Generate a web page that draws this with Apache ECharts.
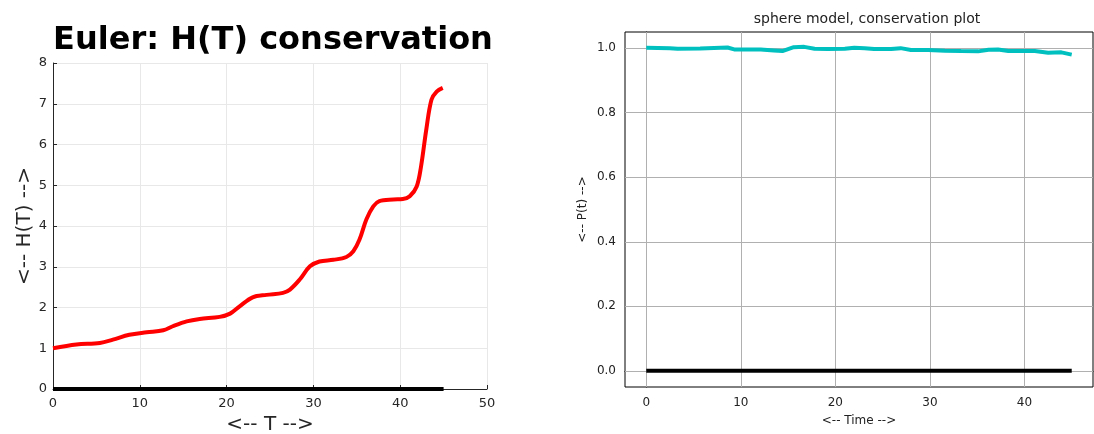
<!DOCTYPE html>
<html><head><meta charset="utf-8">
<script src="https://cdn.jsdelivr.net/npm/echarts@6/dist/echarts.min.js"></script>
<style>html,body{margin:0;padding:0;background:#fff}#c{width:1094px;height:434px}</style>
</head><body><div id="c"></div>
<script>
// Left chart: Euler H(T)
const eulerT = [0,2.7,5.4,6.9,8.8,10.8,12.7,13.8,15.4,16.9,19.2,20.4,21.5,23.0,24.6,26.5,27.3,28.4,29.6,30.7,32.3,33.8,34.6,35.3,36.1,36.9,37.6,39.2,40.3,41.1,41.9,42.4,43.0,43.6,44.2,44.9];
const eulerH = [1.0,1.09,1.13,1.21,1.33,1.39,1.44,1.54,1.66,1.72,1.77,1.85,2.03,2.25,2.31,2.36,2.44,2.68,3.01,3.13,3.17,3.24,3.38,3.66,4.16,4.48,4.61,4.65,4.66,4.73,4.97,5.46,6.36,7.10,7.30,7.39];
const zeroT = [0,45];
const zeroV = [0,0];
// Right chart: sphere model P(t)
const sphereT = [0,2.5,3.3,5.7,8.6,9.3,12.1,13.5,14.4,15.6,16.7,17.8,19.2,21,22,23.1,24.1,25.9,26.9,28,29.8,31.6,33.3,35.1,36.2,37.2,38.3,41.1,42.5,43.9,45];
const sphereP = [1.001,1.0,0.998,0.999,1.002,0.996,0.996,0.993,0.991,1.003,1.004,0.998,0.997,0.998,1.001,1.0,0.997,0.997,1.0,0.994,0.994,0.992,0.991,0.99,0.995,0.996,0.991,0.991,0.986,0.987,0.98];
const rightXTicks = [0,10,20,30,40];
const rightYTicks = [0,0.2,0.4,0.6,0.8,1.0];

const pairs = (a,b) => a.map((v,i)=>[v,b[i]]);
const F = 'DejaVu Sans';
const chart = echarts.init(document.getElementById('c'));
chart.setOption({
  animation:false,
  title:[
    {text:'Euler: H(T) conservation', left:268, top:20, textAlign:'center',
     textStyle:{fontFamily:F, fontWeight:'bold', fontSize:32, color:'#000'}},
    {text:'sphere model, conservation plot', left:862, top:7, textAlign:'center',
     textStyle:{fontFamily:F, fontWeight:'normal', fontSize:14, color:'#222'}}
  ],
  grid:[
    {left:53, top:63, width:434, height:326, containLabel:false, outerBoundsMode:'none'},
    {left:625, top:32, width:468, height:355, show:true, borderColor:'#000', borderWidth:1, containLabel:false, outerBoundsMode:'none'}
  ],
  xAxis:[
    {gridIndex:0, type:'value', min:0, max:50, interval:10,
     name:'<-- T -->', nameLocation:'middle', nameGap:26,
     nameTextStyle:{fontFamily:F, fontSize:20, color:'#262626'},
     axisLine:{lineStyle:{color:'#262626', width:1}},
     axisTick:{inside:true, length:4, lineStyle:{color:'#262626'}},
     axisLabel:{fontFamily:F, fontSize:13, color:'#262626', margin:8},
     splitLine:{show:true, lineStyle:{color:'#e8e8e8', width:1}}},
    {gridIndex:1, type:'value', min:-2.25, max:47.25,
     name:'<-- Time -->', nameLocation:'middle', nameGap:28,
     nameTextStyle:{fontFamily:F, fontSize:12, color:'#222'},
     axisLine:{lineStyle:{color:'#000', width:1}},
     axisTick:{show:true, length:4, lineStyle:{color:'#000'}, customValues:rightXTicks},
     axisLabel:{fontFamily:F, fontSize:12, color:'#222', margin:10, customValues:rightXTicks},
     splitLine:{show:false}}
  ],
  yAxis:[
    {gridIndex:0, type:'value', min:0, max:8, interval:1,
     name:'<-- H(T) -->', nameLocation:'middle', nameGap:15,
     nameTextStyle:{fontFamily:F, fontSize:20, color:'#262626'},
     axisLine:{show:true, lineStyle:{color:'#262626', width:1}},
     axisTick:{show:true, inside:true, length:4, lineStyle:{color:'#262626'}},
     axisLabel:{fontFamily:F, fontSize:13, color:'#262626', margin:6},
     splitLine:{show:true, lineStyle:{color:'#e8e8e8', width:1}}},
    {gridIndex:1, type:'value', min:-0.05, max:1.05,
     name:'<-- P(t) -->', nameLocation:'middle', nameGap:36,
     nameTextStyle:{fontFamily:F, fontSize:12, color:'#222'},
     axisLine:{show:true, lineStyle:{color:'#000', width:1}},
     axisTick:{show:true, length:4, lineStyle:{color:'#000'}, customValues:rightYTicks},
     axisLabel:{fontFamily:F, fontSize:12, color:'#222', margin:9, customValues:rightYTicks,
       formatter:v=>v.toFixed(1)},
     splitLine:{show:false}}
  ],
  series:[
    {type:'line', xAxisIndex:0, yAxisIndex:0, data:pairs(zeroT,zeroV), showSymbol:false,
     lineStyle:{color:'#000', width:4}, z:3},
    {type:'line', xAxisIndex:0, yAxisIndex:0, data:pairs(eulerT,eulerH), showSymbol:false, smooth:0.35,
     lineStyle:{color:'#ff0000', width:4}, z:4},
    {type:'line', xAxisIndex:1, yAxisIndex:1, data:[], showSymbol:false, z:1, zlevel:0,
     markLine:{silent:true, symbol:'none', label:{show:false}, animation:false, z:1,
       lineStyle:{color:'#b0b0b0', width:1, type:'solid'},
       data:[...rightXTicks.map(v=>({xAxis:v})), ...rightYTicks.map(v=>({yAxis:v}))]}},
    {type:'line', xAxisIndex:1, yAxisIndex:1, data:pairs(sphereT,sphereP), showSymbol:false,
     lineStyle:{color:'#00bfbf', width:4}, z:4},
    {type:'line', xAxisIndex:1, yAxisIndex:1, data:pairs(zeroT,zeroV), showSymbol:false,
     lineStyle:{color:'#000', width:4}, z:5}
  ]
});
</script></body></html>
